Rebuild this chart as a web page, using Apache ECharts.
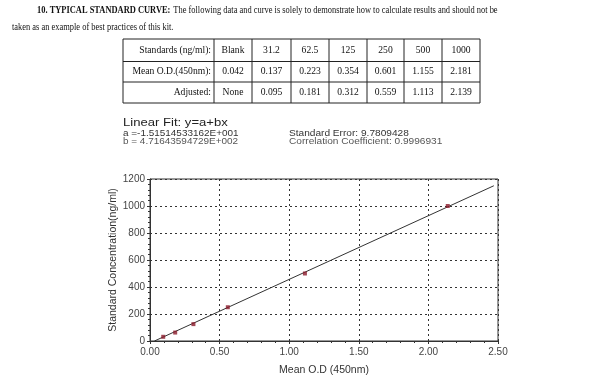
<!DOCTYPE html>
<html><head><meta charset="utf-8">
<script src="https://cdn.jsdelivr.net/npm/echarts@6/dist/echarts.min.js"></script>
<style>html,body{margin:0;padding:0;background:#fff}#c{width:600px;height:386px}</style>
</head><body><div id="c"></div>
<script>
// ---- data ----
const standards = ['Blank', '31.2', '62.5', '125', '250', '500', '1000'];
const meanOD = ['0.042', '0.137', '0.223', '0.354', '0.601', '1.155', '2.181'];
const adjusted = ['None', '0.095', '0.181', '0.312', '0.559', '1.113', '2.139'];
const rowHeaders = ['Standards (ng/ml):', 'Mean O.D.(450nm):', 'Adjusted:'];
const pointOD = [0.095, 0.181, 0.312, 0.559, 1.113, 2.139];
const pointConc = [31.2, 62.5, 125, 250, 500, 1000];
const fitX = [0.032, 2.47];
const fitY = [0, 1150];
const xTicks = [0, 0.5, 1, 1.5, 2, 2.5];
const yTicks = [0, 200, 400, 600, 800, 1000, 1200];
const fitTitle = 'Linear Fit: y=a+bx';
const fitA = 'a =-1.51514533162E+001';
const fitB = 'b = 4.71643594729E+002';
const stdErr = 'Standard Error: 9.7809428';
const corr = 'Correlation Coefficient: 0.9996931';

// ---- layout ----
const colX = [123, 214, 252, 291, 329, 367, 404, 442, 480];
const rowY = [39, 61.5, 82, 103];
const serif = '"Liberation Serif", "Times New Roman", serif';
const sans = '"Liberation Sans", Arial, sans-serif';

const graphic = [];
// header
graphic.push({type:'text', x:37, y:10, scaleX:0.86, style:{rich:{b:{fontWeight:'bold', fontFamily:serif, fontSize:9.8, fill:'#111'}, n:{fontFamily:serif, fontSize:9.8, fill:'#111'}}, text:'{b|10. TYPICAL STANDARD CURVE:} {n|The following data and curve is solely to demonstrate how to calculate results and should not be}', textVerticalAlign:'middle'}});
graphic.push({type:'text', x:12, y:27, scaleX:0.86, style:{text:'taken as an example of best practices of this kit.', fontFamily:serif, fontSize:9.8, fill:'#111', textVerticalAlign:'middle'}});
// table lines
rowY.forEach(y => graphic.push({type:'line', shape:{x1:colX[0], y1:y, x2:colX[colX.length-1], y2:y}, style:{stroke:'#222', lineWidth:1}}));
colX.forEach(x => graphic.push({type:'line', shape:{x1:x, y1:rowY[0], x2:x, y2:rowY[rowY.length-1]}, style:{stroke:'#222', lineWidth:1}}));
const rows = [standards, meanOD, adjusted];
rows.forEach((row, r) => {
  const cy = (rowY[r] + rowY[r+1]) / 2;
  graphic.push({type:'text', x: colX[1]-3, y: cy, style:{text: rowHeaders[r], fontFamily:serif, fontSize:9.6, fill:'#111', textAlign:'right', textVerticalAlign:'middle'}});
  row.forEach((v, i) => {
    graphic.push({type:'text', x:(colX[i+1]+colX[i+2])/2, y:cy, style:{text:v, fontFamily:serif, fontSize:9.6, fill:'#111', textAlign:'center', textVerticalAlign:'middle'}});
  });
});
// fit annotation
graphic.push({type:'text', x:123, y:123, scaleX:1.17, style:{text:fitTitle, fontFamily:sans, fontSize:11.2, fill:'#222', textVerticalAlign:'middle'}});
graphic.push({type:'text', x:123, y:133.5, scaleX:1.17, style:{text:fitA, fontFamily:sans, fontSize:8.5, fill:'#333', textVerticalAlign:'middle'}});
graphic.push({type:'text', x:123, y:142, scaleX:1.17, style:{text:fitB, fontFamily:sans, fontSize:8.5, fill:'#555', textVerticalAlign:'middle'}});
graphic.push({type:'text', x:289, y:133.5, scaleX:1.19, style:{text:stdErr, fontFamily:sans, fontSize:8.5, fill:'#333', textVerticalAlign:'middle'}});
graphic.push({type:'text', x:289, y:142, scaleX:1.19, style:{text:corr, fontFamily:sans, fontSize:8.5, fill:'#555', textVerticalAlign:'middle'}});

const chart = echarts.init(document.getElementById('c'));
chart.setOption({
  animation:false,
  backgroundColor:'#fff',
  graphic: graphic,
  grid:{left:150, right:102, top:179, bottom:45, show:true, borderColor:'#333', borderWidth:1},
  xAxis:{type:'value', min:xTicks[0], max:xTicks[xTicks.length-1], interval:0.5,
    name:'Mean O.D (450nm)', nameLocation:'middle', nameGap:24,
    nameTextStyle:{fontFamily:sans, fontSize:10.5, color:'#333'},
    axisLine:{lineStyle:{color:'#333'}},
    axisTick:{show:true, inside:false, length:3, lineStyle:{color:'#333'}},
    minorTick:{show:true, splitNumber:5, length:2, lineStyle:{color:'#333'}},
    axisLabel:{formatter:v=>v.toFixed(2), fontFamily:sans, fontSize:10, color:'#444', margin:6},
    splitLine:{show:true, lineStyle:{type:[2,3], color:'#333', width:1}}},
  yAxis:{type:'value', min:yTicks[0], max:yTicks[yTicks.length-1], interval:200,
    name:'Standard Concentration(ng/ml)', nameLocation:'middle', nameGap:31, nameMoveOverlap:false,
    nameTextStyle:{fontFamily:sans, fontSize:10.5, color:'#333'},
    axisLine:{show:true, lineStyle:{color:'#333'}},
    axisTick:{show:true, length:3, lineStyle:{color:'#333'}},
    minorTick:{show:true, splitNumber:5, length:2, lineStyle:{color:'#333'}},
    axisLabel:{formatter:v=>String(v), fontFamily:sans, fontSize:10, color:'#444', margin:5},
    splitLine:{show:true, lineStyle:{type:[2,3], color:'#333', width:1}}},
  series:[
    {type:'line', data: fitX.map((x,i)=>[x, fitY[i]]), symbol:'none', lineStyle:{color:'#333', width:1}, z:2},
    {type:'scatter', data: pointOD.map((x,i)=>[x, pointConc[i]]), symbol:'rect', symbolSize:4, itemStyle:{color:'#8b1a2a'}, z:3}
  ]
});
</script></body></html>
